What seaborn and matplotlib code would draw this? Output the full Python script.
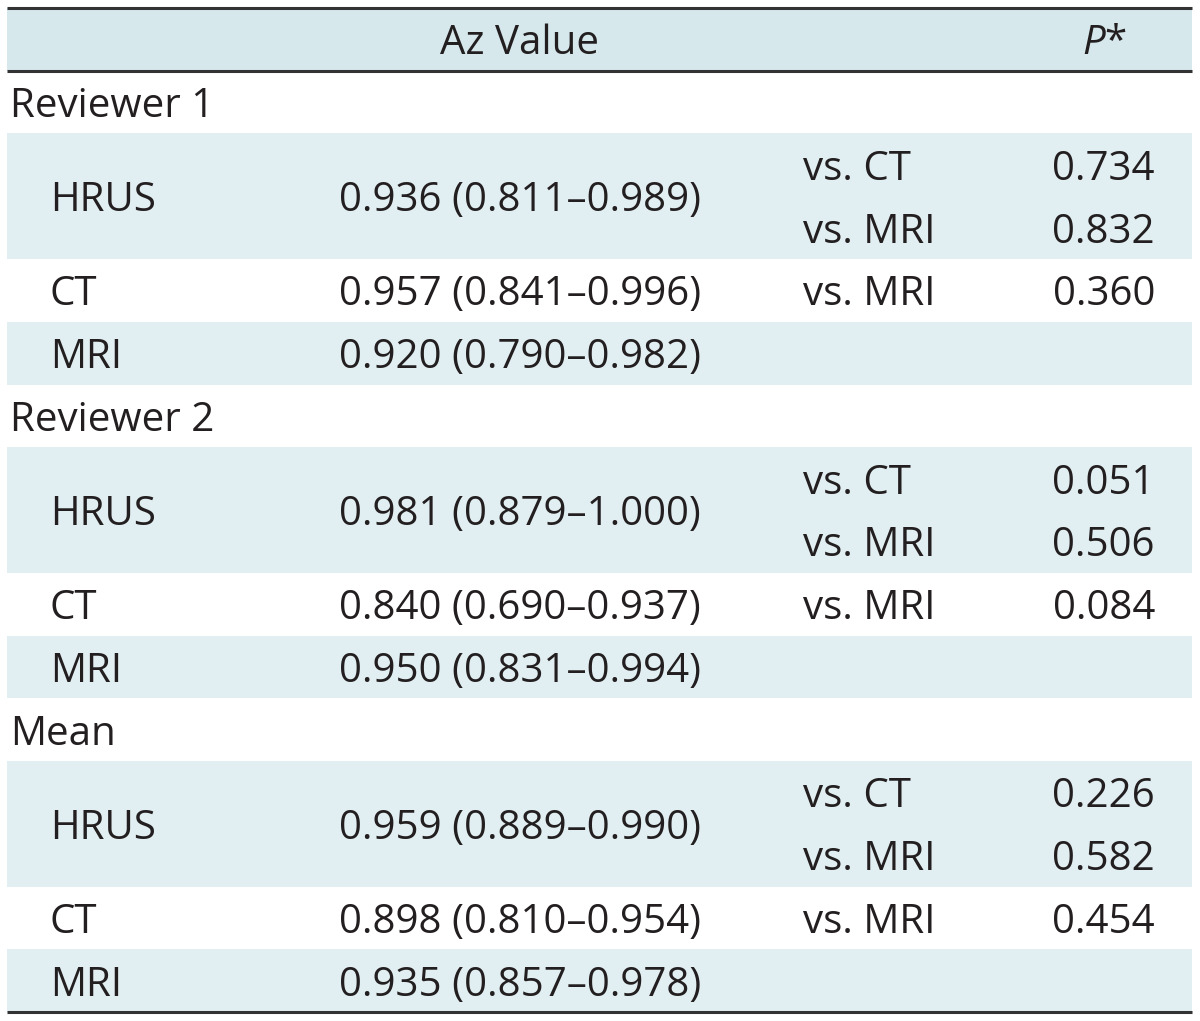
import matplotlib
matplotlib.use('Agg')
import matplotlib.pyplot as plt
import seaborn as sns

# table values
groups = ['Reviewer 1', 'Reviewer 2', 'Mean']
modalities = ['HRUS', 'CT', 'MRI']
az = [[0.936, 0.957, 0.920], [0.981, 0.840, 0.950], [0.959, 0.898, 0.935]]
az_lo = [[0.811, 0.841, 0.790], [0.879, 0.690, 0.831], [0.889, 0.810, 0.857]]
az_hi = [[0.989, 0.996, 0.982], [1.000, 0.937, 0.994], [0.990, 0.954, 0.978]]
comparisons = ['vs. CT', 'vs. MRI', 'vs. MRI']
p_values = [[0.734, 0.832, 0.360], [0.051, 0.506, 0.084], [0.226, 0.582, 0.454]]

sns.set_theme(style='white')
plt.rcParams['font.family'] = ['Open Sans', 'DejaVu Sans']
plt.rcParams['mathtext.fontset'] = 'custom'
plt.rcParams['mathtext.it'] = 'Open Sans:italic'
plt.rcParams['mathtext.rm'] = 'Open Sans'

TXT = '#231f20'
HEAD = '#d6e8ec'
SHADE = '#e2eff2'
FS = 29

fig = plt.figure(figsize=(12, 10.21), dpi=100)
ax = fig.add_axes([0, 0, 1, 1])
row_h = 62.75
top = 8
ax.set_xlim(0, 1200)
ax.set_ylim((1021 - top) / row_h, -top / row_h)
ax.axis('off')

x0, x1 = 7, 1192
base = 15 / row_h  # baseline offset below row centre


def band(r0, r1, color):
    ax.fill_between([x0, x1], r0, r1, color=color, lw=0)


def txt(x, y, s, ha):
    ax.text(x, y + base, s, ha=ha, va='baseline', fontsize=FS, color=TXT)


# header
band(0, 1, HEAD)
txt(520, 0.5, 'Az Value', 'center')
txt(1105, 0.5, '$P$*', 'center')

row = 1
for g, name in enumerate(groups):
    txt(10, row + 0.5, name, 'left')
    row += 1
    # HRUS spans two sub rows
    spans = [(row, row + 2, True), (row + 2, row + 3, False), (row + 3, row + 4, True)]
    for m, (r0, r1, shaded) in enumerate(spans):
        if shaded:
            band(r0, r1, SHADE)
        yc = (r0 + r1) / 2
        txt(50, yc, modalities[m], 'left')
        lab = f'{az[g][m]:.3f} ({az_lo[g][m]:.3f}\u2013{az_hi[g][m]:.3f})'
        txt(520, yc, lab, 'center')
    for c in range(3):
        yc = row + 0.5 + c
        txt(803, yc, comparisons[c], 'left')
        txt(1155, yc, f'{p_values[g][c]:.3f}', 'right')
    row += 4

# rules
for y in [0, 1, 16]:
    ax.plot([x0, x1], [y, y], color='#333333', lw=2.2, solid_capstyle='butt')

fig.savefig('out.png', dpi=100)
